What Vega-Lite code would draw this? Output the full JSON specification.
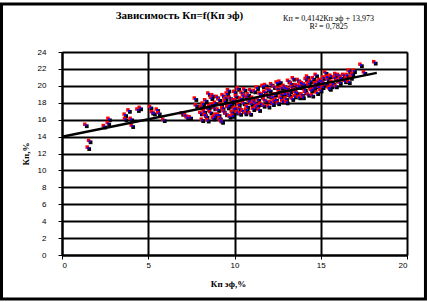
{
  "$schema": "https://vega.github.io/schema/vega-lite/v6.json",
  "autosize": "none",
  "width": 345,
  "height": 203,
  "padding": {"left": 62, "top": 52, "right": 20, "bottom": 47},
  "background": "white",
  "config": {
    "view": {"stroke": "#808080", "strokeWidth": 1},
    "axis": {"labelFont": "Liberation Sans", "labelFontSize": 8, "labelColor": "black", "titleFont": "Liberation Serif", "titleFontSize": 9, "titleFontWeight": "bold", "titleColor": "black", "domainColor": "black", "domainWidth": 2, "tickColor": "black", "tickWidth": 1, "tickSize": 4, "gridColor": "black", "gridWidth": 2, "gridOpacity": 1, "labelOverlap": false}
  },
  "title": {"text": "Зависимость Кп=f(Кп эф)", "font": "Liberation Serif", "fontSize": 11, "fontWeight": "bold", "color": "black", "anchor": "middle", "frame": "group", "dx": -55, "offset": -19},
  "datasets": {
    "pts": [
      {"x":1.35,"y":15.4},{"x":1.57,"y":13.5},{"x":1.49,"y":12.7},{"x":2.42,"y":15.25},{"x":2.69,"y":16.1},{"x":2.65,"y":15.6},{"x":3.63,"y":16.6},{"x":3.65,"y":16.1},{"x":3.85,"y":17.1},{"x":3.98,"y":16.1},{"x":4.04,"y":15.3},{"x":4.37,"y":17.2},{"x":4.5,"y":17.4},{"x":5.1,"y":17.5},{"x":5.2,"y":16.9},{"x":5.49,"y":17.2},{"x":5.58,"y":16.8},{"x":5.3,"y":16.8},{"x":5.87,"y":16.0},{"x":6.94,"y":16.75},{"x":7.13,"y":16.55},{"x":7.23,"y":16.3},{"x":7.4,"y":16.3},{"x":7.7,"y":18.5},{"x":7.75,"y":17.7},
      {"x":8.02,"y":16.8},{"x":8.1,"y":16.0},{"x":8.15,"y":17.9},{"x":8.22,"y":17.0},{"x":8.3,"y":18.3},{"x":8.35,"y":16.4},{"x":8.42,"y":15.95},{"x":8.48,"y":19.1},{"x":8.52,"y":17.6},{"x":8.58,"y":16.9},{"x":8.63,"y":18.6},{"x":8.7,"y":18.9},{"x":8.74,"y":16.2},{"x":8.8,"y":17.4},{"x":8.86,"y":18.0},{"x":8.9,"y":16.6},{"x":8.97,"y":18.7},
      {"x":9.02,"y":17.2},{"x":9.08,"y":18.4},{"x":9.12,"y":16.2},{"x":9.16,"y":15.96},{"x":9.2,"y":17.8},{"x":9.25,"y":15.8},{"x":9.3,"y":18.9},{"x":9.35,"y":17.0},{"x":9.42,"y":18.2},{"x":9.48,"y":16.7},{"x":9.54,"y":19.1},{"x":9.58,"y":17.5},{"x":9.62,"y":19.5},{"x":9.68,"y":16.4},{"x":9.72,"y":18.6},{"x":9.78,"y":17.9},{"x":9.84,"y":16.9},{"x":9.9,"y":18.3},{"x":9.95,"y":17.3},{"x":9.98,"y":19.3},
      {"x":10.02,"y":17.4},{"x":10.08,"y":18.8},{"x":10.12,"y":16.9},{"x":10.18,"y":19.7},{"x":10.22,"y":17.8},{"x":10.3,"y":16.75},{"x":10.34,"y":18.5},{"x":10.4,"y":19.2},{"x":10.45,"y":17.1},{"x":10.5,"y":18.0},{"x":10.55,"y":19.6},{"x":10.6,"y":16.8},{"x":10.66,"y":18.7},{"x":10.7,"y":17.6},{"x":10.76,"y":19.0},{"x":10.82,"y":18.2},{"x":10.88,"y":16.75},{"x":10.9,"y":19.5},{"x":10.95,"y":17.9},
      {"x":11.02,"y":18.6},{"x":11.06,"y":17.3},{"x":11.12,"y":19.4},{"x":11.18,"y":18.0},{"x":11.22,"y":17.5},{"x":11.28,"y":19.8},{"x":11.34,"y":18.4},{"x":11.4,"y":17.2},{"x":11.45,"y":19.1},{"x":11.5,"y":17.9},{"x":11.55,"y":18.8},{"x":11.62,"y":20.0},{"x":11.66,"y":17.7},{"x":11.72,"y":19.3},{"x":11.77,"y":20.1},{"x":11.82,"y":18.2},{"x":11.88,"y":18.9},{"x":11.94,"y":17.6},
      {"x":12.02,"y":19.5},{"x":12.08,"y":18.1},{"x":12.12,"y":20.2},{"x":12.18,"y":18.7},{"x":12.2,"y":17.9},{"x":12.26,"y":19.9},{"x":12.32,"y":19.0},{"x":12.38,"y":18.4},{"x":12.44,"y":20.4},{"x":12.5,"y":18.0},{"x":12.56,"y":19.3},{"x":12.6,"y":20.5},{"x":12.66,"y":18.6},{"x":12.72,"y":19.8},{"x":12.78,"y":18.2},{"x":12.84,"y":20.0},{"x":12.9,"y":19.1},{"x":12.96,"y":18.5},
      {"x":13.0,"y":18.1},{"x":13.04,"y":19.7},{"x":13.1,"y":20.6},{"x":13.15,"y":18.9},{"x":13.2,"y":19.4},{"x":13.26,"y":20.3},{"x":13.32,"y":18.5},{"x":13.38,"y":20.9},{"x":13.42,"y":19.6},{"x":13.48,"y":18.8},{"x":13.54,"y":20.1},{"x":13.6,"y":19.2},{"x":13.66,"y":20.7},{"x":13.72,"y":18.7},{"x":13.78,"y":19.9},{"x":13.82,"y":20.4},{"x":13.88,"y":19.0},{"x":13.94,"y":18.7},
      {"x":14.02,"y":20.2},{"x":14.08,"y":19.3},{"x":14.12,"y":20.8},{"x":14.2,"y":21.1},{"x":14.24,"y":19.0},{"x":14.3,"y":20.0},{"x":14.36,"y":20.6},{"x":14.42,"y":19.5},{"x":14.48,"y":18.9},{"x":14.54,"y":20.9},{"x":14.6,"y":19.8},{"x":14.66,"y":20.3},{"x":14.7,"y":21.3},{"x":14.76,"y":19.2},{"x":14.82,"y":20.5},{"x":14.88,"y":19.9},{"x":14.96,"y":19.5},
      {"x":15.02,"y":20.6},{"x":15.08,"y":19.9},{"x":15.14,"y":21.0},{"x":15.25,"y":21.6},{"x":15.3,"y":20.2},{"x":15.38,"y":20.8},{"x":15.45,"y":19.8},{"x":15.5,"y":19.7},{"x":15.56,"y":21.2},{"x":15.62,"y":20.5},{"x":15.7,"y":20.3},{"x":15.78,"y":21.0},{"x":15.85,"y":20.0},{"x":15.92,"y":20.7},
      {"x":16.0,"y":21.3},{"x":16.08,"y":20.4},{"x":16.15,"y":20.9},{"x":16.3,"y":21.3},{"x":16.38,"y":20.6},{"x":16.5,"y":21.3},{"x":16.6,"y":20.5},{"x":16.62,"y":21.8},{"x":16.72,"y":21.0},{"x":16.9,"y":21.8},{"x":17.3,"y":22.5},{"x":17.5,"y":21.6},{"x":18.1,"y":22.8},
      {"x":8.05,"y":17.5},{"x":8.26,"y":16.6},{"x":8.45,"y":17.3},{"x":8.66,"y":17.8},{"x":8.83,"y":16.4},{"x":9.05,"y":16.6},{"x":9.28,"y":17.4},{"x":9.46,"y":18.6},{"x":9.66,"y":17.7},{"x":9.88,"y":16.5},{"x":10.05,"y":18.3},{"x":10.26,"y":17.3},{"x":10.48,"y":18.9},{"x":10.68,"y":17.2},{"x":10.86,"y":18.4},{"x":11.08,"y":18.2},{"x":11.3,"y":17.7},{"x":11.52,"y":19.0},{"x":11.7,"y":18.4},{"x":11.9,"y":19.6},{"x":12.05,"y":18.8},{"x":12.28,"y":18.3},{"x":12.48,"y":19.7},{"x":12.7,"y":19.0},{"x":12.92,"y":19.8},{"x":13.08,"y":19.1},{"x":13.3,"y":19.9},{"x":13.5,"y":19.3},{"x":13.7,"y":20.0},{"x":13.9,"y":20.3},{"x":14.05,"y":19.6},{"x":14.28,"y":20.3},{"x":14.5,"y":19.6},{"x":14.72,"y":20.0},{"x":14.92,"y":20.7},{"x":15.1,"y":20.4},{"x":15.34,"y":21.1},{"x":15.6,"y":20.0},{"x":15.84,"y":21.4},{"x":16.1,"y":21.0},{"x":16.45,"y":20.9},{"x":16.8,"y":21.4}
    ],
    "trend": [{"x": 0, "y": 13.973}, {"x": 18.25, "y": 21.532}]
  },
  "encoding": {
    "x": {"field": "x", "type": "quantitative", "scale": {"domain": [0, 20], "nice": false}, "axis": {"title": "Кп эф,%", "values": [0, 5, 10, 15, 20], "labelPadding": 2, "titlePadding": 10, "titleX": 166}},
    "y": {"field": "y", "type": "quantitative", "scale": {"domain": [0, 24], "nice": false}, "axis": {"title": "Кп,%", "values": [0, 2, 4, 6, 8, 10, 12, 14, 16, 18, 20, 22, 24], "labelPadding": 12, "titlePadding": 7}}
  },
  "layer": [
    {
      "data": {"name": "pts"},
      "mark": {"type": "square", "size": 14, "color": "black", "opacity": 1, "xOffset": 1.5, "yOffset": 1.5, "strokeWidth": 0}
    },
    {
      "data": {"name": "pts"},
      "mark": {"type": "square", "size": 12, "color": "#ff0000", "opacity": 1, "xOffset": -0.5, "yOffset": -0.5, "strokeWidth": 0}
    },
    {
      "data": {"name": "pts"},
      "mark": {"type": "square", "size": 4, "color": "#0000ff", "opacity": 1, "xOffset": 0.5, "yOffset": 0.5, "strokeWidth": 0}
    },
    {
      "data": {"name": "trend"},
      "mark": {"type": "line", "color": "black", "strokeWidth": 2.5}
    },
    {
      "data": {"values": [{"tx": 15.45, "ty": 27.85}]},
      "mark": {"type": "text", "text": ["Кп = 0,4142Кп эф + 13,973", "R² = 0,7825"], "font": "Liberation Serif", "fontSize": 8, "lineHeight": 8, "color": "black", "align": "center", "baseline": "middle", "clip": false},
      "encoding": {
        "x": {"field": "tx", "type": "quantitative"},
        "y": {"field": "ty", "type": "quantitative"}
      }
    },
    {
      "data": {"values": [{"x1": -3.507, "x2": 21.07, "y1": 29.68, "y2": -5.2}]},
      "mark": {"type": "rect", "fill": null, "fillOpacity": 0, "stroke": "black", "strokeWidth": 3, "clip": false},
      "encoding": {
        "x": {"field": "x1", "type": "quantitative"},
        "x2": {"field": "x2"},
        "y": {"field": "y1", "type": "quantitative"},
        "y2": {"field": "y2"}
      }
    }
  ]
}
